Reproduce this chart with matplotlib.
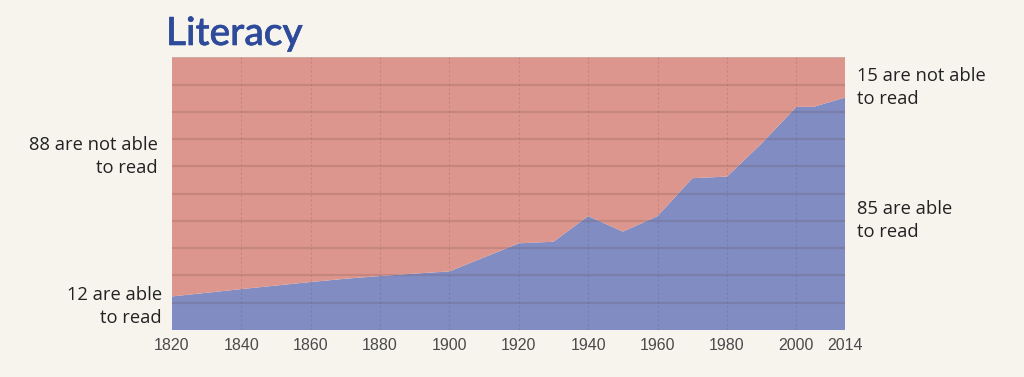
import matplotlib
matplotlib.use("Agg")
import matplotlib.pyplot as plt
import matplotlib.patheffects as pe
import numpy as np

# Data (share of world population, %)
years = [1820, 1840, 1860, 1870, 1880, 1890, 1900, 1920, 1930, 1940, 1950, 1960,
         1970, 1980, 1990, 2000, 2005, 2014]
literate = [12.3, 15.0, 17.6, 18.8, 19.8, 20.7, 21.5, 31.8, 32.4, 41.8, 36.1, 41.8,
            55.7, 56.3, 68.5, 81.9, 81.9, 85.3]
illiterate = [100 - v for v in literate]
tick_years = [1820, 1840, 1860, 1880, 1900, 1920, 1940, 1960, 1980, 2000, 2014]
tick_labels = [str(t) for t in tick_years]

BG = "#F7F4EE"
RED = "#DD968D"
BLUE = "#808CC2"
TITLE = "#2E4A9A"

fig = plt.figure(figsize=(10.24, 3.77), dpi=100, facecolor=BG)
ax = fig.add_axes([0.1677, 0.1247, 0.6575, 0.7228])
ax.set_facecolor(BG)

ax.stackplot(years, literate, illiterate, colors=[BLUE, RED], linewidth=0)

ax.set_xlim(1820, 2014)
ax.set_ylim(0, 100)

# horizontal grid lines
for yv in range(10, 101, 10):
    ax.axhline(yv, color="#5a4040", alpha=0.18, lw=1.6, zorder=3)
# vertical dotted lines
for xv in tick_years[1:-1]:
    ax.axvline(xv, color="#6a5050", alpha=0.22, lw=0.8, ls=(0, (2, 2)), zorder=3)

for s in ax.spines.values():
    s.set_visible(False)
ax.set_yticks([])
ax.set_xticks(tick_years)
ax.set_xticklabels(tick_labels, fontsize=11.5, color="#4a4a4a", family="Liberation Sans")
ax.tick_params(axis="x", length=0, pad=6)

fig.text(166 / 1024, 1 - 45 / 377, "Literacy", fontsize=28, color=TITLE,
         family="Lato", weight="medium", ha="left", va="baseline",
         path_effects=[pe.withStroke(linewidth=0.45, foreground=TITLE)])

tfont = dict(fontsize=13.2, color="#222222", family="Open Sans", linespacing=1.35)
fig.text(158 / 1024, 1 - 173 / 377, "88 are not able\nto read", ha="right", va="baseline", **tfont)
fig.text(162 / 1024, 1 - 323 / 377, "12 are able\nto read", ha="right", va="baseline", **tfont)
fig.text(857 / 1024, 1 - 104 / 377, "15 are not able\nto read", ha="left", va="baseline", **tfont)
fig.text(857 / 1024, 1 - 236.7 / 377, "85 are able\nto read", ha="left", va="baseline", **tfont)

fig.savefig("out.png", dpi=100, facecolor=BG)
